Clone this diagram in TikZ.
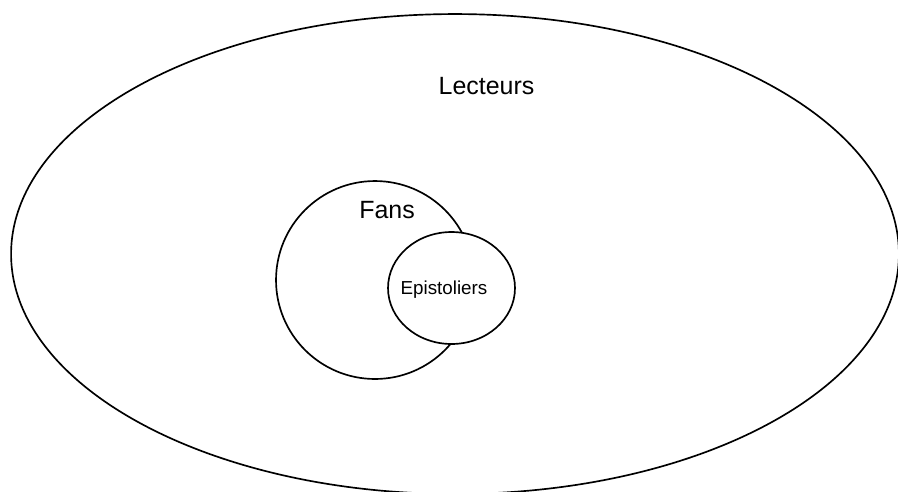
\documentclass[tikz,border=0pt]{standalone}
\usepackage{fontspec}
\setmainfont{Liberation Sans}
\usetikzlibrary{shapes.geometric}
\begin{document}
\begin{tikzpicture}[
  x=0.02cm, y=-0.02cm,
  set/.style={ellipse, draw=black, fill=white, line width=0.95pt, inner sep=0pt, outer sep=0pt},
  lbl/.style={font=\fontsize{14.2}{16}\selectfont, inner sep=0pt},
  sublbl/.style={font=\fontsize{10.7}{12}\selectfont, inner sep=0pt}
]
  \useasboundingbox (0,0) rectangle (898,491);

  %% ── Sets ──────────────────────────────────────────────────────────────────
  \node[set, minimum width=17.76cm, minimum height=9.6cm] (lecteurs) at (455,254) {};
  \node[set, minimum width=3.96cm, minimum height=3.96cm] (fans) at (375,280) {};
  \node[set, minimum width=2.54cm, minimum height=2.24cm] (epist) at (451.5,288) {};

  %% ── Labels ────────────────────────────────────────────────────────────────
  \node[lbl] (lecteursLbl) at (486.5,86) {Lecteurs};
  \node[lbl] (fansLbl) at (387,210) {Fans};
  \node[sublbl] (epistLbl) at (444,290) {Epistoliers};
\end{tikzpicture}
\end{document}
